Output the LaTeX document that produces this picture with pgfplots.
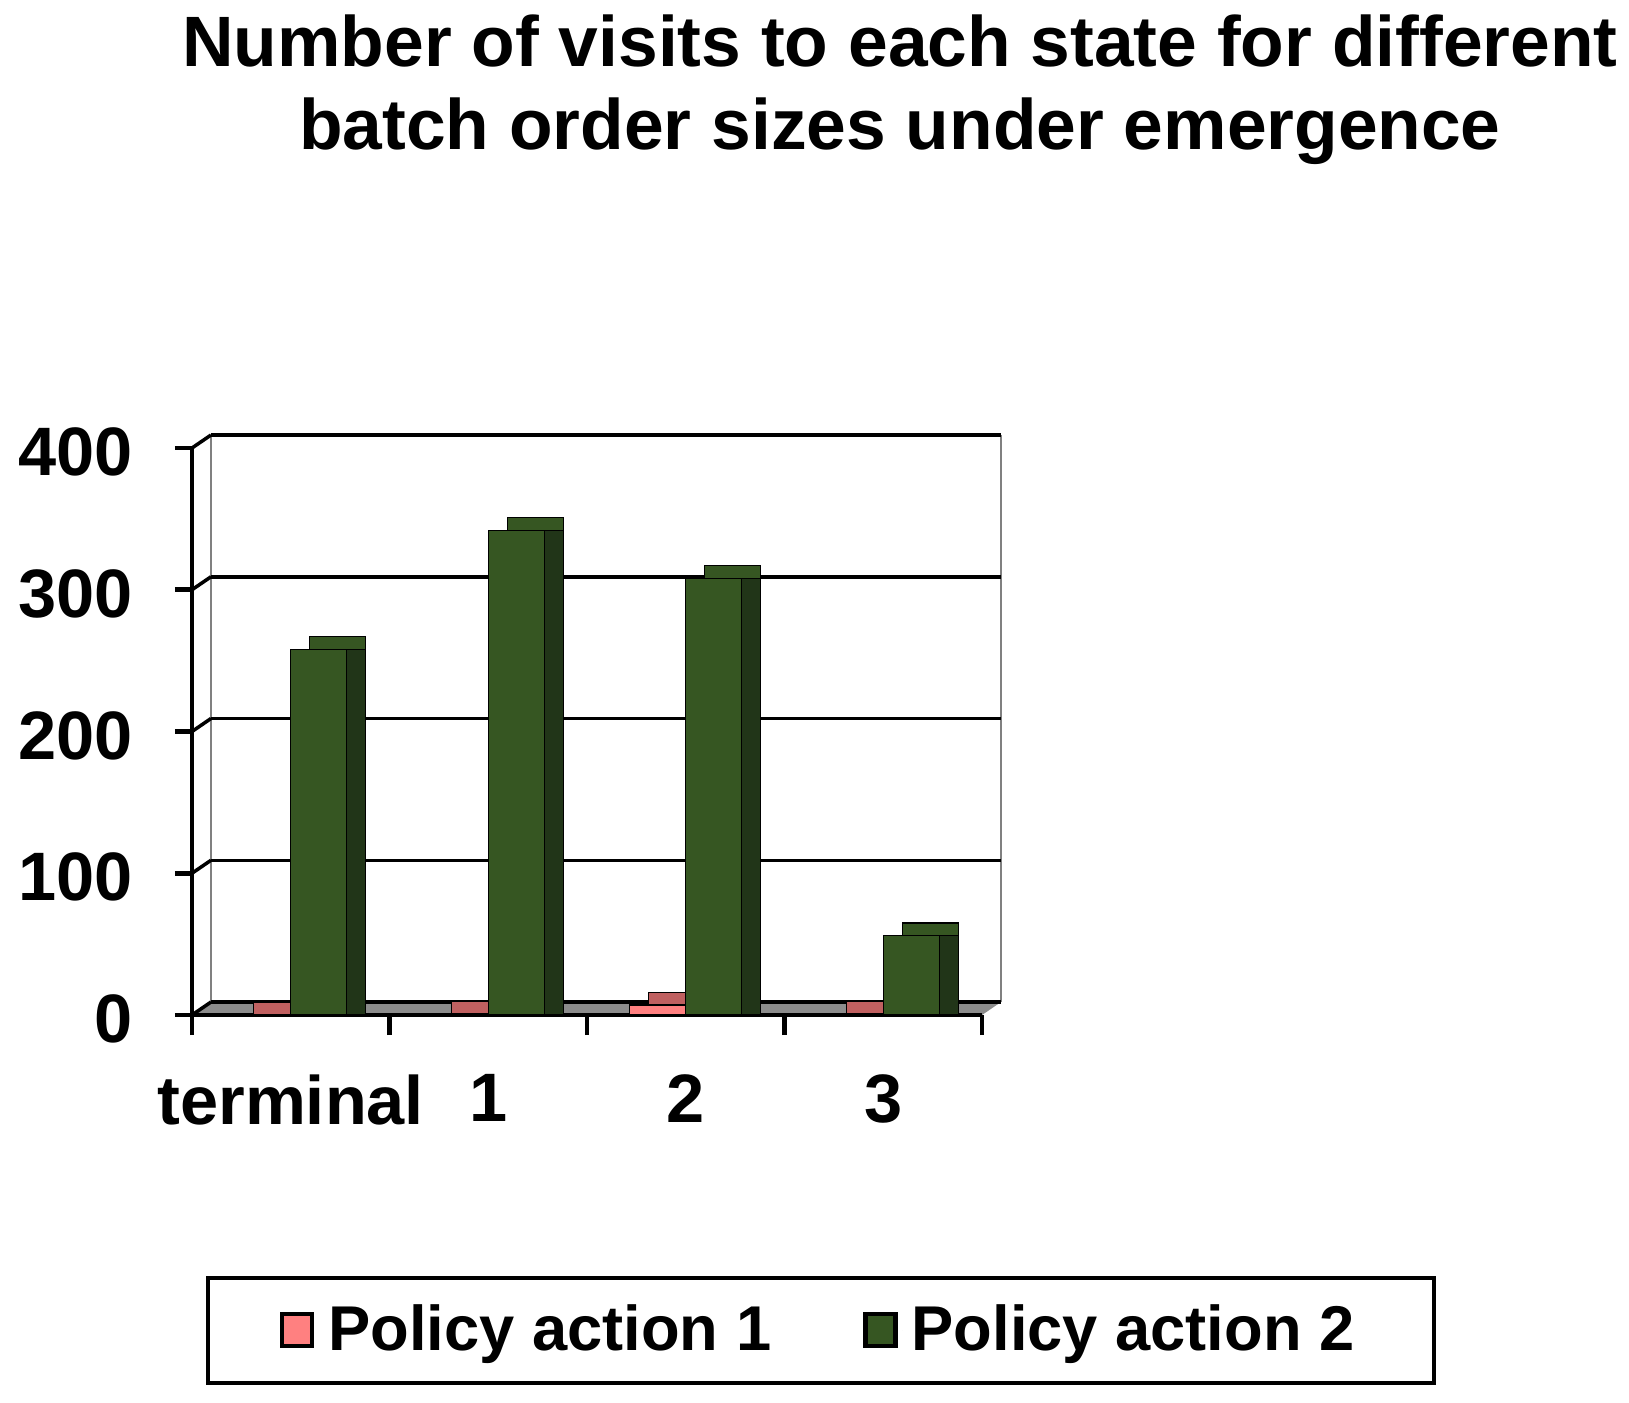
\documentclass[border=0pt]{standalone}
\usepackage{pgfplots}
\pgfplotsset{compat=1.18}
\usepackage{pgfplotstable}
\usepackage{fontspec}
\setmainfont{Liberation Sans}

\definecolor{frontgreen}{RGB}{54,86,34}
\definecolor{sidegreen}{RGB}{33,53,24}
\definecolor{frontred}{RGB}{255,128,128}
\definecolor{topred}{RGB}{192,96,96}
\definecolor{sidered}{RGB}{60,26,26}
\definecolor{floorgray}{RGB}{140,140,140}

% visits per state, policy action 1 / 2
\pgfplotstableread{
x p1 p2
0 0 258
1 1 342
2 7 308
3 1 56
}\visits

\begin{document}
\begin{tikzpicture}
\useasboundingbox (0,0) rectangle (16.29,14.02);

% title
\node[align=center, font=\fontsize{20.3}{23.5}\selectfont\bfseries] at (9.0,13.12)
  {Number of visits to each state for different\\batch order sizes under emergence};

% floor and back wall (3-D look)
\fill[floorgray] (1.92,3.87) -- (9.82,3.87) -- (10.01,4.00) -- (2.11,4.00) -- cycle;
\draw[gray, line width=0.8pt] (2.11,4.00) -- (2.11,9.67);
\draw[gray, line width=0.8pt] (10.01,4.00) -- (10.01,9.67);
\foreach \v in {0,100,200,300,400}
  \draw[black, line width=1pt] (1.92,{3.87+\v*5.67/400}) -- ++(0.19,0.13);

\begin{axis}[
    at={(1.92cm,3.87cm)}, anchor=south west,
    scale only axis,
    width=7.90cm, height=5.67cm,
    clip=false,
    ymin=0, ymax=400,
    xmin=-0.5, xmax=3.5,
    ytick={0,100,200,300,400},
    xtick={0,1,2,3},
    xticklabels={terminal,1,2,3},
    minor xtick={-0.5,0.5,1.5,2.5,3.5},
    major x tick style={draw=none},
    axis x line*=bottom, axis y line*=left,
    axis line style={line width=1.3pt, black, -},
    tick style={line width=1.3pt, black},
    tick align=outside,
    major tick length=0.17cm, minor tick length=0.2cm,
    ymajorgrids,
    major grid style={black, line width=1pt, shift={(0.19cm,0.13cm)}},
    tick label style={font=\fontsize{19.5}{22}\selectfont\bfseries, /pgf/number format/assume math mode=true},
    xticklabel style={yshift=-0.3cm},
    yticklabel style={xshift=-0.3cm, yshift=-0.04cm},
    ybar, bar width=0.56cm,
    legend style={at={(0.796,-0.556)}, anchor=center, draw=black, line width=1.2pt,
      font=\fontsize{18}{21}\selectfont\bfseries, legend columns=2,
      inner xsep=0.72cm, inner ysep=0.2cm,
      /tikz/every even column/.append style={column sep=0.85cm}},
    legend image code/.code={\draw[#1, draw=black, line width=1.2pt] (0.05cm,-0.16cm) rectangle (0.35cm,0.16cm);
      \path (0.42cm,0) circle (0pt);},
]
% policy action 1
\addplot[fill=topred, draw=black, bar shift=-0.09cm, forget plot] table[x=x, y expr=\thisrow{p1}+9]{\visits};
\addplot[fill=sidered, draw=black, bar shift=-0.09cm, forget plot] table[x=x, y=p1]{\visits};
\addplot[fill=frontred, draw=black, bar shift=-0.28cm] table[x=x, y=p1]{\visits};
\addlegendentry{Policy action 1}
% policy action 2
\addplot[fill=frontgreen, draw=black, bar shift=0.47cm, forget plot] table[x=x, y expr=\thisrow{p2}+9]{\visits};
\addplot[fill=sidegreen, draw=black, bar shift=0.47cm, forget plot] table[x=x, y=p2]{\visits};
\addplot[fill=frontgreen, draw=black, bar shift=0.28cm] table[x=x, y=p2]{\visits};
\addlegendentry{Policy action 2}
\end{axis}
\end{tikzpicture}
\end{document}
